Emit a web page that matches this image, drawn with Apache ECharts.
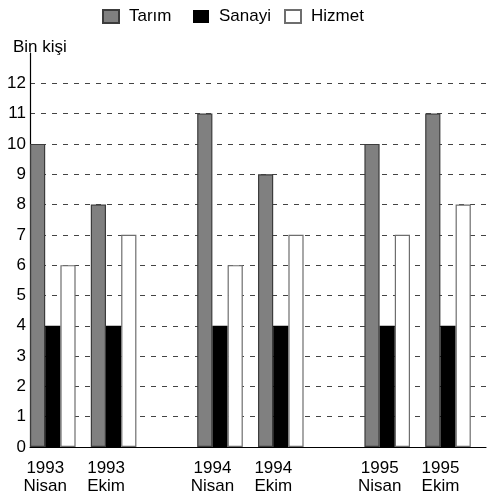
<!DOCTYPE html>
<html>
<head>
<meta charset="utf-8">
<script src="https://cdn.jsdelivr.net/npm/echarts@6/dist/echarts.min.js"></script>
<style>html,body{margin:0;padding:0;background:#fff}#c{width:496px;height:502px}</style>
</head>
<body>
<div id="c"></div>
<script>
// ---- data ----
const periods = ['1993\nNisan', '1993\nEkim', '1994\nNisan', '1994\nEkim', '1995\nNisan', '1995\nEkim'];
const seriesNames = ['Tarım', 'Sanayi', 'Hizmet'];
const tarim = [10, 8, 11, 9, 10, 11];
const sanayi = [4, 4, 4, 4, 4, 4];
const hizmet = [6, 7, 6, 7, 7, 8];
const yLabelMax = 12;
const unitLabel = 'Bin kişi';

// ---- layout of slots (each bar occupies one slot on a category axis) ----
const SLOTS = 30;
function groupStart(i) { return Math.floor(i / 2) * 11 + (i % 2) * 4; }
function slotData(values, offset) {
  const arr = new Array(SLOTS).fill(null);
  values.forEach((v, i) => { arr[groupStart(i) + offset] = v; });
  return arr;
}
const cats = [];
for (let s = 0; s < SLOTS; s++) cats.push('s' + s);
const labelMap = {};
periods.forEach((p, i) => { labelMap['s' + (groupStart(i) + 1)] = p; });

const FONT = '"Liberation Sans", Arial, sans-serif';
const styles = [
  { color: '#808080', borderColor: '#3c3c3c', borderWidth: 1.2 },
  { color: '#000000', borderColor: '#000000', borderWidth: 0 },
  { color: '#ffffff', borderColor: '#6e6e6e', borderWidth: 1.2 }
];
const allValues = [tarim, sanayi, hizmet];

const chart = echarts.init(document.getElementById('c'), null, { renderer: 'canvas' });
const legendLefts = [102, 193, 284];
chart.setOption({
  animation: false,
  backgroundColor: '#fff',
  textStyle: { fontFamily: FONT },
  title: {
    text: unitLabel, left: 8, top: 34,
    textStyle: { fontFamily: FONT, fontSize: 17, fontWeight: 'normal', color: '#000' }
  },
  legend: seriesNames.map((n, i) => ({
    data: [n], left: legendLefts[i], top: 8, icon: 'rect',
    itemWidth: 16, itemHeight: 13, padding: 0,
    textStyle: { fontFamily: FONT, fontSize: 17, color: '#000', padding: [0, 0, 0, 5] }
  })),
  grid: { left: 30, right: 10, top: 53, bottom: 55, containLabel: false },
  xAxis: {
    type: 'category',
    data: cats,
    boundaryGap: true,
    axisLine: { lineStyle: { color: '#000', width: 1.2 } },
    axisTick: { show: false },
    axisLabel: {
      interval: 0, margin: 12,
      formatter: v => labelMap[v] || '',
      fontFamily: FONT, fontSize: 17, color: '#000', lineHeight: 18,
      padding: [0, 15, 0, 0]
    },
    splitLine: { show: false }
  },
  yAxis: {
    type: 'value', min: 0, max: 13, interval: 1,
    axisLine: { show: true, lineStyle: { color: '#000', width: 1.2 } },
    axisTick: { show: false },
    axisLabel: {
      margin: 4, fontFamily: FONT, fontSize: 17, color: '#000',
      formatter: v => (v <= yLabelMax ? String(v) : '')
    },
    splitLine: {
      show: true, showMinLine: false, showMaxLine: false,
      lineStyle: { color: '#444', type: [5, 6], width: 1 }
    }
  },
  series: seriesNames.map((n, k) => ({
    name: n,
    type: 'bar',
    data: slotData(allValues[k], k),
    barGap: '-100%',
    barCategoryGap: 0,
    itemStyle: styles[k]
  }))
});
</script>
</body>
</html>
